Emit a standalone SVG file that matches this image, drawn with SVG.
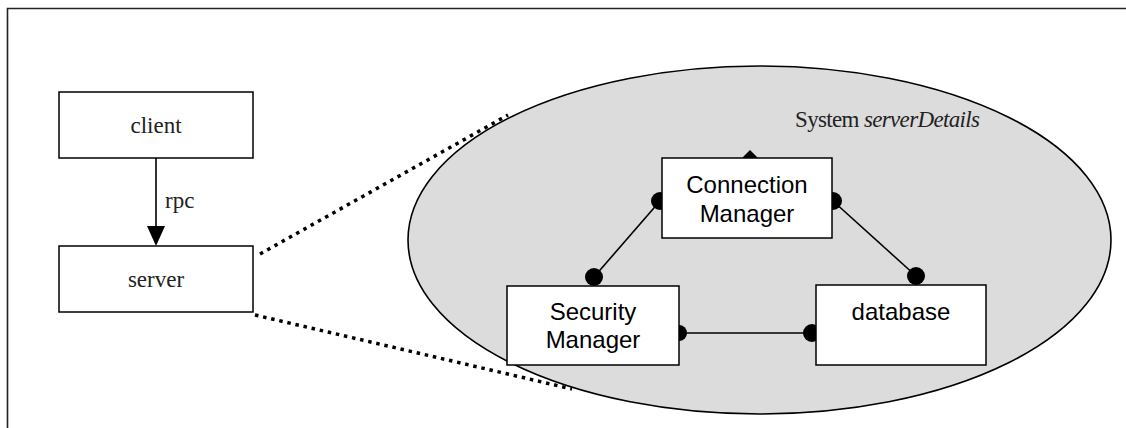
<svg xmlns="http://www.w3.org/2000/svg" width="1126" height="428" viewBox="0 0 1126 428">
<style>
.box{fill:#fff;stroke:#000;stroke-width:1.5}
.serif{font-family:"Liberation Serif",serif;font-size:23px;fill:#222}
.sans{font-family:"Liberation Sans",Arial,sans-serif;font-size:24px;fill:#000;text-anchor:middle}
.ball{fill:#000}
.link{stroke:#000;stroke-width:1.6;fill:none}
.dots{stroke:#000;stroke-width:3.5;stroke-dasharray:3.5 4.8;fill:none}
</style>
<rect width="1126" height="428" fill="#fff"/>
<path d="M7.5,428 V8.5 H1126" fill="none" stroke="#222" stroke-width="1.6"/>

<g id="system">
<ellipse cx="759.5" cy="240" rx="351.5" ry="174" fill="#dcdcdc" stroke="#000" stroke-width="1.6"/>
<text x="795" y="127" class="serif" font-size="21" fill="#333" textLength="185" lengthAdjust="spacing">System <tspan font-style="italic">serverDetails</tspan></text>
</g>

<g id="connectors">
<line x1="156" y1="158" x2="156" y2="226" stroke="#000" stroke-width="1.6"/>
<path d="M147,226 L165,226 L156,246 Z" fill="#000"/>
<text x="165" y="208" class="serif">rpc</text>
<line class="dots" x1="260" y1="254" x2="508" y2="115"/>
<line class="dots" x1="255" y1="315" x2="572" y2="389"/>
<line class="link" x1="594" y1="277" x2="660" y2="201"/>
<line class="link" x1="833" y1="201" x2="916" y2="276"/>
<line class="link" x1="679" y1="333" x2="812" y2="333"/>
<circle class="ball" cx="660" cy="201" r="9"/>
<circle class="ball" cx="833" cy="201" r="9"/>
<circle class="ball" cx="594" cy="277" r="9"/>
<circle class="ball" cx="916" cy="276" r="9"/>
<circle class="ball" cx="679" cy="333" r="8"/>
<circle class="ball" cx="812" cy="333" r="9"/>
<path d="M742,158 L750,150 L758,158 Z" fill="#000"/>
</g>

<g id="client">
<rect class="box" x="59" y="92" width="194" height="66"/>
<text x="156" y="133" class="serif" text-anchor="middle">client</text>
</g>

<g id="server">
<rect class="box" x="59" y="246" width="194" height="66"/>
<text x="156" y="287" class="serif" text-anchor="middle">server</text>
</g>

<g id="connection-manager">
<rect class="box" x="662" y="158" width="170" height="80"/>
<text x="747" y="193" class="sans">Connection</text>
<text x="747" y="222" class="sans">Manager</text>
</g>

<g id="security-manager">
<rect class="box" x="507" y="286" width="172" height="79"/>
<text x="593" y="320" class="sans">Security</text>
<text x="593" y="348" class="sans">Manager</text>
</g>

<g id="database">
<rect class="box" x="816" y="285" width="170" height="80"/>
<text x="901" y="320" class="sans">database</text>
</g>
</svg>
